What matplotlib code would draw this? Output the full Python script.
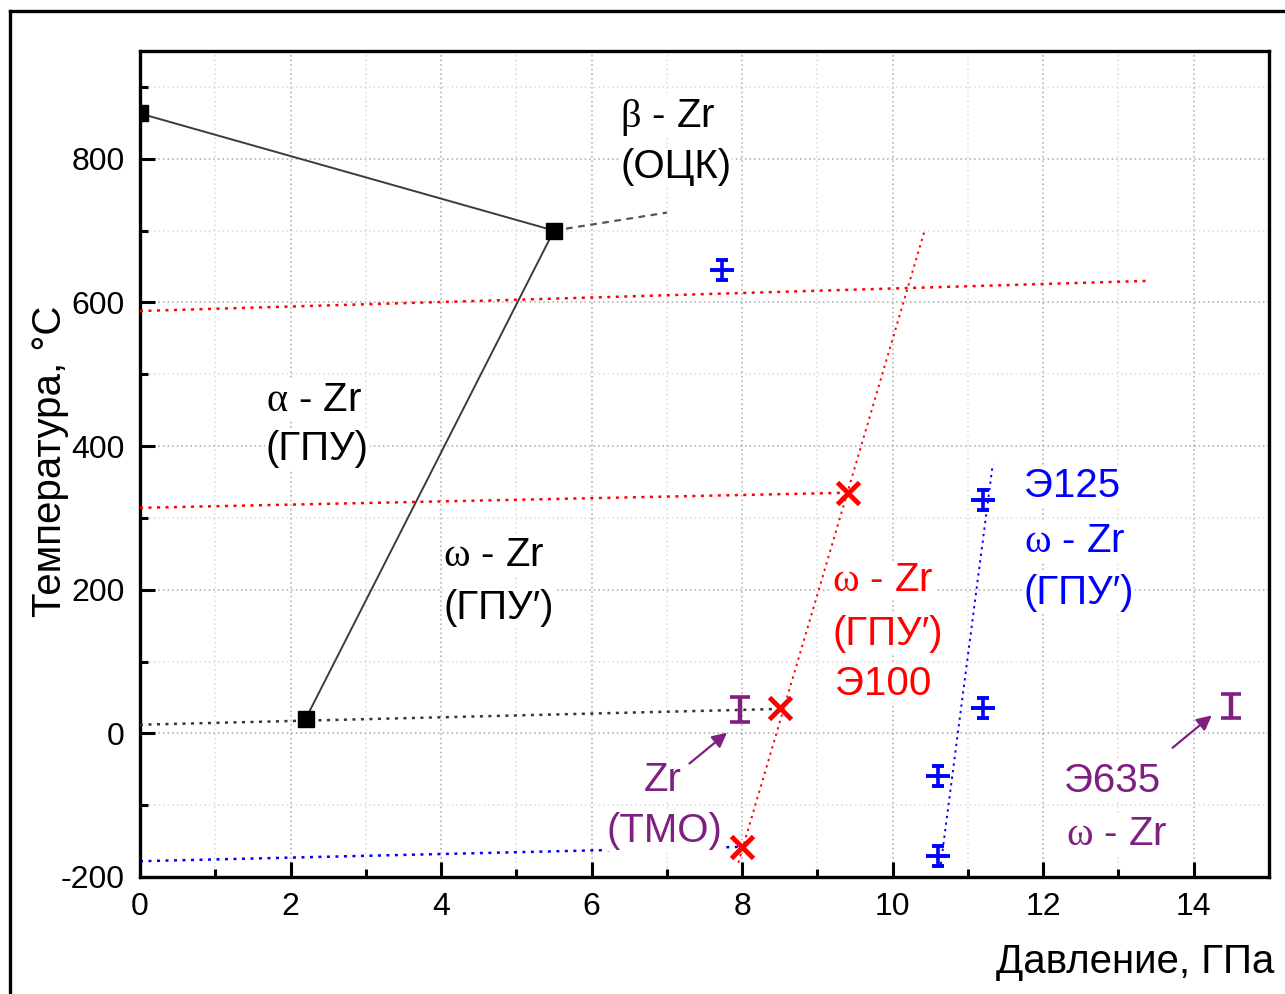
import matplotlib
matplotlib.use("Agg")
import matplotlib.pyplot as plt
from matplotlib.lines import Line2D
from matplotlib.ticker import MultipleLocator

plt.rcParams['font.family'] = ['Liberation Sans', 'DejaVu Sans']
plt.rcParams['mathtext.fontset'] = 'custom'
plt.rcParams['mathtext.rm'] = 'Liberation Serif'
plt.rcParams['mathtext.it'] = 'Liberation Serif:italic'
plt.rcParams['axes.unicode_minus'] = False

# Phase-diagram triple/boundary points of pure Zr
phase_P = [0.0, 5.5, 2.2]
phase_T = [863, 700, 20]

# Boundary lines (pairs of endpoints)
boundary_ab_P = [0.0, 5.5]
boundary_ab_T = [863, 700]
boundary_aw_P = [5.5, 2.2]
boundary_aw_T = [700, 20]
boundary_ext_P = [5.5, 7.0]
boundary_ext_T = [700, 725]

# Guide lines
black_guide_P = [0.0, 8.5]
black_guide_T = [12, 34]
red_upper_P = [0.0, 13.4]
red_upper_T = [588, 630]
red_mid_P = [0.0, 9.4]
red_mid_T = [314, 335]
red_steep_P = [7.95, 10.43]
red_steep_T = [-180, 702]
blue_low_P = [0.0, 8.0]
blue_low_T = [-178, -158]
blue_steep_P = [10.64, 11.33]
blue_steep_T = [-182, 375]

# Э100 alloy
e100_P = [8.0, 8.5, 9.4]
e100_T = [-158, 35, 335]

# Э125 alloy
e125_P = [7.73, 11.2, 11.2, 10.6, 10.6]
e125_T = [645, 325, 35, -60, -171]
e125_err = [14, 14, 14, 14, 14]

# Zr (ТМО) and Э635
purple_P = [7.97, 14.5]
purple_T = [33, 38]
purple_err = [17, 17]

RED = '#ff0000'
BLUE = '#0000ff'
PURPLE = '#7f1f80'
DOT = (0, (1.2, 2.2))

fig = plt.figure(figsize=(12.85, 9.94), dpi=100)
fig.patch.set_facecolor('white')
ax = fig.add_axes([140 / 1285, 1 - 877 / 994, (1269 - 140) / 1285, (877 - 51) / 994])

# outer frame (left and top edges)
fig.add_artist(Line2D([10 / 1285, 10 / 1285], [0, 1 - 11 / 994], transform=fig.transFigure,
                      color='black', lw=2.4, solid_capstyle='projecting'))
fig.add_artist(Line2D([10 / 1285, 1], [1 - 11 / 994, 1 - 11 / 994], transform=fig.transFigure,
                      color='black', lw=2.4, solid_capstyle='projecting'))

ax.set_xlim(0, 15)
ax.set_ylim(-200, 950)
ax.xaxis.set_major_locator(MultipleLocator(2))
ax.xaxis.set_minor_locator(MultipleLocator(1))
ax.yaxis.set_major_locator(MultipleLocator(200))
ax.yaxis.set_minor_locator(MultipleLocator(100))
ax.grid(which='major', linestyle=(0, (1, 2)), color='#a8a8a8', lw=1.1)
ax.grid(which='minor', linestyle=(0, (1, 2)), color='#dadada', lw=1.1)
ax.set_axisbelow(True)

ax.tick_params(which='both', direction='in', top=False, right=False, width=2.2)
ax.tick_params(which='major', length=11, labelsize=23, pad=11)
ax.tick_params(which='minor', length=6)
for s in ax.spines.values():
    s.set_linewidth(2.4)

# boundaries
ax.plot(boundary_ab_P, boundary_ab_T, color='#3c3c3c', lw=1.4, zorder=3)
ax.plot(boundary_aw_P, boundary_aw_T, color='#3c3c3c', lw=1.4, zorder=3)
ax.plot(boundary_ext_P, boundary_ext_T, color='#555555', lw=1.6, ls=(0, (3, 2.5)), zorder=3)
ax.plot(black_guide_P, black_guide_T, color='#333333', lw=1.8, ls=DOT, zorder=3)
ax.plot(phase_P, phase_T, ls='none', marker='s', ms=11, color='black', zorder=6)

# guides for alloys
ax.plot(red_upper_P, red_upper_T, color=RED, lw=1.8, ls=DOT, zorder=3)
ax.plot(red_mid_P, red_mid_T, color=RED, lw=1.8, ls=DOT, zorder=3)
ax.plot(red_steep_P, red_steep_T, color=RED, lw=1.4, ls=DOT, zorder=3)
ax.plot(blue_low_P, blue_low_T, color=BLUE, lw=1.8, ls=DOT, zorder=2)
ax.plot(blue_steep_P, blue_steep_T, color=BLUE, lw=1.4, ls=DOT, zorder=3)

# data points
ax.plot(e100_P, e100_T, ls='none', marker='x', ms=16, mew=3.5, color=RED, zorder=6)
ax.errorbar(e125_P, e125_T, yerr=e125_err, fmt='_', ms=17, mew=2.8, color=BLUE,
            ecolor=BLUE, elinewidth=2.6, capsize=4.5, capthick=2.2, zorder=6)
ax.errorbar(purple_P, purple_T, yerr=purple_err, fmt='none', ecolor=PURPLE,
            elinewidth=3.2, capsize=7, capthick=2.6, zorder=6)

# arrows
arrow_kw = dict(arrowstyle='-|>', color=PURPLE, lw=1.6, mutation_scale=22, shrinkA=0, shrinkB=0)
ax.annotate('', xy=(7.8, 1), xytext=(7.3, -42), arrowprops=arrow_kw, zorder=5)
ax.annotate('', xy=(14.24, 25), xytext=(13.72, -20), arrowprops=arrow_kw, zorder=5)

FS = 29
box = dict(facecolor='white', edgecolor='none', pad=0.5)

def label(x, y, s, color='black', ha='left'):
    ax.text(x, y, s, color=color, fontsize=FS, ha=ha, va='center', bbox=box, zorder=4)

label(6.38, 858, r'$\mathrm{\beta}$ - Zr')
label(6.38, 788, '(ОЦК)')
label(1.67, 464, r'$\mathrm{\alpha}$ - Zr')
label(1.67, 396, '(ГПУ)')
label(4.03, 248, r'$\mathrm{\omega}$ - Zr')
label(4.03, 175, '(ГПУ′)')

label(9.2, 213, r'$\mathrm{\omega}$ - Zr', RED)
label(9.2, 139, '(ГПУ′)', RED)
label(9.24, 69, 'Э100', RED)

label(11.74, 344, 'Э125', BLUE)
label(11.74, 268, r'$\mathrm{\omega}$ - Zr', BLUE)
label(11.74, 195, '(ГПУ′)', BLUE)

label(6.94, -65, 'Zr', PURPLE, 'center')
label(6.97, -136, '(ТМО)', PURPLE, 'center')
label(12.92, -66, 'Э635', PURPLE, 'center')
label(12.98, -140, r'$\mathrm{\omega}$ - Zr', PURPLE, 'center')

ax.set_xlabel('Давление, ГПа', fontsize=29, ha='right', va='center')
ax.xaxis.set_label_coords(1.005, -0.103)
ax.set_ylabel('Температура, °С', fontsize=29, va='center')
ax.yaxis.set_label_coords(-0.0797, 0.503)

fig.savefig('out.png', dpi=100)
